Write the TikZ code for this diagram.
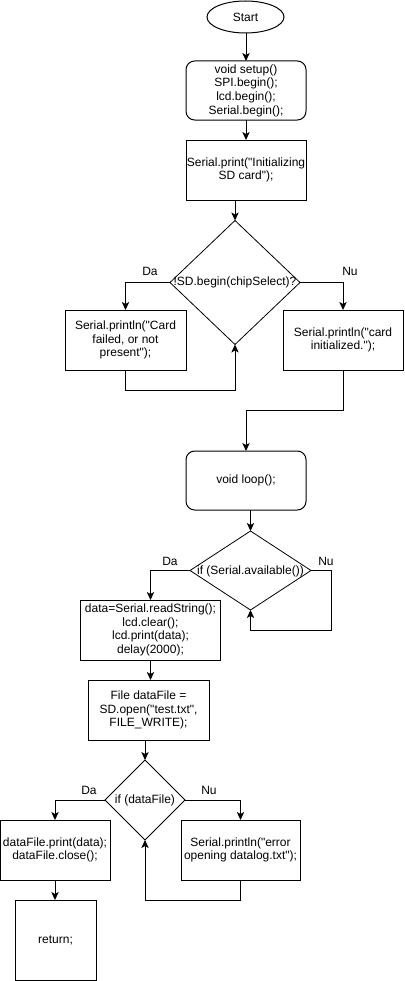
\documentclass[tikz,border=0pt]{standalone}
\usepackage{fontspec}
\setmainfont{Liberation Sans}[Ligatures=TeXOff]
\usetikzlibrary{shapes.geometric,arrows.meta}
\begin{document}
\begin{tikzpicture}[x=0.75pt,y=-0.75pt,
  every node/.style={font=\fontsize{9}{10.3}\selectfont, text=black},
  box/.style={draw, rectangle, line width=0.75pt, align=center, inner sep=0pt, outer sep=0pt},
  rbox/.style={box, rounded corners=6.5pt},
  dec/.style={draw, diamond, line width=0.6pt, inner sep=0pt, outer sep=0pt},
  term/.style={draw, ellipse, line width=0.75pt, inner sep=0pt, outer sep=0pt},
  line/.style={line width=0.75pt},
  arr/.style={line width=0.75pt, -{Stealth[length=6pt,width=5.5pt,inset=1.5pt]}},
  lbl/.style={inner sep=0pt}
]
\useasboundingbox (0,0) rectangle (404,981);
% nodes
\node[term, minimum width=57.75pt, minimum height=24pt] (start) at (245.5,17) {Start};
\node[rbox, minimum width=90pt, minimum height=44.25pt] (setup) at (246,90.5) {void setup()\\SPI.begin();\\lcd.begin();\\Serial.begin();};
\node[box, minimum width=90pt, minimum height=45pt] (init) at (246,170) {Serial.print("Initializing\\SD card");};
\node[dec, minimum width=97.5pt, minimum height=93pt] (d1) at (235,282.5) {};
\node[lbl] (d1t) at (235,282) {!SD.begin(chipSelect)?};
\node[box, minimum width=90.75pt, minimum height=45pt] (fail) at (125.5,340) {Serial.println("Card\\failed, or not\\present");};
\node[box, minimum width=90pt, minimum height=45pt] (ok) at (343,340) {Serial.println("card\\initialized.");};
\node[rbox, minimum width=90pt, minimum height=44.25pt] (loop) at (246,480.5) {void loop();};
\node[dec, minimum width=90.75pt, minimum height=59.25pt] (d2) at (250.5,570.5) {};
\node[lbl] (d2t) at (250.5,571) {if (Serial.available())};
\node[box, minimum width=105pt, minimum height=45pt] (data) at (150.5,630) {data=Serial.readString();\\lcd.clear();\\lcd.print(data);\\delay(2000);};
\node[box, minimum width=90.75pt, minimum height=45pt] (file) at (148.5,710) {File dataFile =\\SD.open("test.txt",\\FILE\_WRITE);};
\node[dec, minimum width=60pt, minimum height=60pt] (d3) at (145,800) {};
\node[lbl] (d3t) at (145,800) {if (dataFile)};
\node[box, minimum width=82.5pt, minimum height=45pt] (dfp) at (55,850) {dataFile.print(data);\\dataFile.close();};
\node[box, minimum width=89.25pt, minimum height=45pt] (err) at (240.5,850) {Serial.println("error\\opening datalog.txt");};
\node[box, minimum width=60.75pt, minimum height=60pt] (ret) at (55.5,940) {return;};
% labels
\node[lbl] (da1) at (150,271) {Da};
\node[lbl] (nu1) at (350,271) {Nu};
\node[lbl] (da2) at (170,561) {Da};
\node[lbl] (nu2) at (326,561) {Nu};
\node[lbl] (da3) at (89,790) {Da};
\node[lbl] (nu3) at (209,790) {Nu};
% connectors
\draw[arr] (start.south -| setup.north) -- (setup.north);
\draw[arr] (setup.south) -- (init.north);
\draw[arr] (init.south -| d1.north) -- (d1.north);
\draw[arr] (d1.west) -| (fail.north);
\draw[arr] (d1.east) -| (ok.north);
\draw[arr] (fail.south) -- ++(0,20) -| (d1.south);
\draw[arr] (ok.south) -- ++(0,40) -| (loop.north);
\draw[arr] (loop.south -| d2.north) -- (d2.north);
\draw[arr] (d2.west) -| (data.north);
\draw[arr] (d2.east) -| ++(20,59.5) -| (d2.south);
\draw[arr] (data.south) -- (data.south |- file.north);
\draw[arr] (file.south -| d3.north) -- (d3.north);
\draw[arr] (d3.west) -| (dfp.north);
\draw[arr] (d3.east) -| (err.north);
\draw[arr] (err.south) -- ++(0,20) -| (d3.south);
\draw[arr] (dfp.south) -- (dfp.south |- ret.north);
\end{tikzpicture}
\end{document}
